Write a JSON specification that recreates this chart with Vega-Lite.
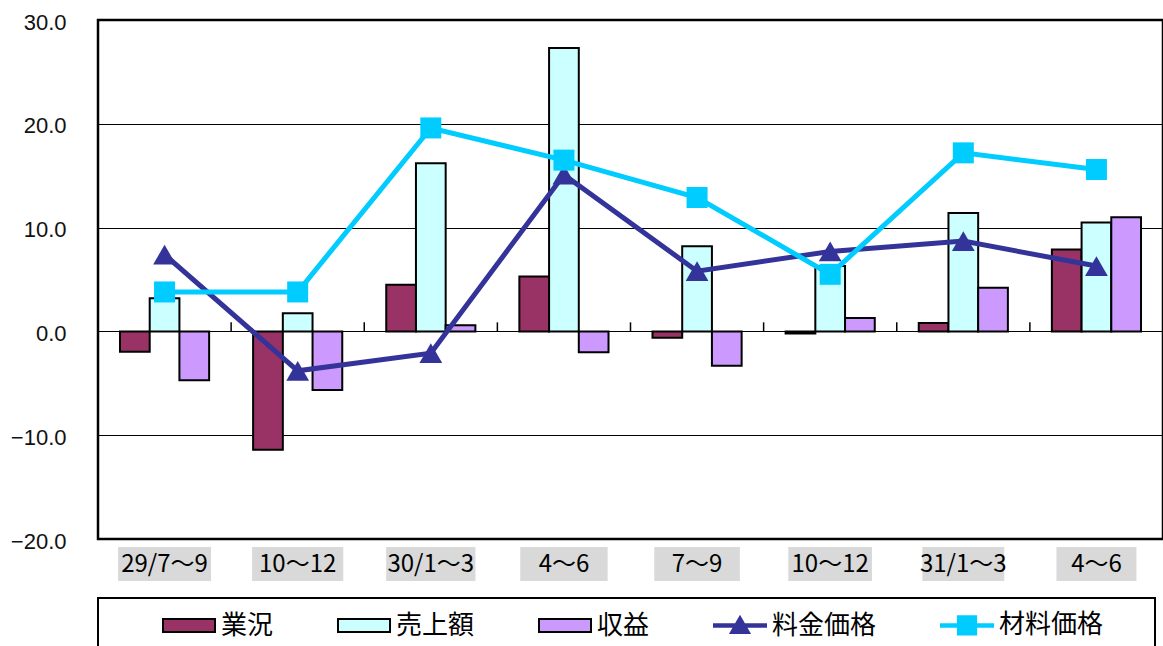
{
  "$schema": "https://vega.github.io/schema/vega-lite/v6.json",
  "width": 1065,
  "height": 519,
  "autosize": {"type": "none"},
  "padding": {"left": 98, "top": 20, "right": 0, "bottom": 107},
  "background": "white",
  "config": {"view": {"stroke": "black", "strokeWidth": 2.5}},
  "data": {"values": [
    {"cat": "29/7～9", "series": "業況", "value": -1.95},
    {"cat": "29/7～9", "series": "売上額", "value": 3.2},
    {"cat": "29/7～9", "series": "収益", "value": -4.7},
    {"cat": "29/7～9", "series": "料金価格", "value": 7.4},
    {"cat": "29/7～9", "series": "材料価格", "value": 3.8},
    {"cat": "29/10～12", "series": "業況", "value": -11.4},
    {"cat": "29/10～12", "series": "売上額", "value": 1.75},
    {"cat": "29/10～12", "series": "収益", "value": -5.65},
    {"cat": "29/10～12", "series": "料金価格", "value": -3.8},
    {"cat": "29/10～12", "series": "材料価格", "value": 3.8},
    {"cat": "30/1～3", "series": "業況", "value": 4.5},
    {"cat": "30/1～3", "series": "売上額", "value": 16.2},
    {"cat": "30/1～3", "series": "収益", "value": 0.6},
    {"cat": "30/1～3", "series": "料金価格", "value": -2.1},
    {"cat": "30/1～3", "series": "材料価格", "value": 19.6},
    {"cat": "30/4～6", "series": "業況", "value": 5.3},
    {"cat": "30/4～6", "series": "売上額", "value": 27.3},
    {"cat": "30/4～6", "series": "収益", "value": -2.0},
    {"cat": "30/4～6", "series": "料金価格", "value": 15.1},
    {"cat": "30/4～6", "series": "材料価格", "value": 16.5},
    {"cat": "30/7～9", "series": "業況", "value": -0.6},
    {"cat": "30/7～9", "series": "売上額", "value": 8.2},
    {"cat": "30/7～9", "series": "収益", "value": -3.3},
    {"cat": "30/7～9", "series": "料金価格", "value": 5.8},
    {"cat": "30/7～9", "series": "材料価格", "value": 12.9},
    {"cat": "30/10～12", "series": "業況", "value": -0.2},
    {"cat": "30/10～12", "series": "売上額", "value": 6.3},
    {"cat": "30/10～12", "series": "収益", "value": 1.3},
    {"cat": "30/10～12", "series": "料金価格", "value": 7.7},
    {"cat": "30/10～12", "series": "材料価格", "value": 5.5},
    {"cat": "31/1～3", "series": "業況", "value": 0.8},
    {"cat": "31/1～3", "series": "売上額", "value": 11.4},
    {"cat": "31/1～3", "series": "収益", "value": 4.2},
    {"cat": "31/1～3", "series": "料金価格", "value": 8.7},
    {"cat": "31/1～3", "series": "材料価格", "value": 17.2},
    {"cat": "31/4～6", "series": "業況", "value": 7.9},
    {"cat": "31/4～6", "series": "売上額", "value": 10.5},
    {"cat": "31/4～6", "series": "収益", "value": 11.0},
    {"cat": "31/4～6", "series": "料金価格", "value": 6.3},
    {"cat": "31/4～6", "series": "材料価格", "value": 15.6}
  ]},
  "encoding": {
    "x": {
      "field": "cat", "type": "nominal", "sort": null,
      "scale": {"domain": ["29/7～9","29/10～12","30/1～3","30/4～6","30/7～9","30/10～12","31/1～3","31/4～6"], "paddingInner": 0, "paddingOuter": 0},
      "axis": {
        "title": null, "domain": false, "ticks": false, "tickSize": 0, "labelAngle": 0,
        "labelFont": "Noto Sans CJK JP", "labelFontSize": 24, "labelColor": "black",
        "labelPadding": 25, "labelBaseline": "middle", "zindex": 1,
        "labelExpr": "indexof(['29/7～9','30/1～3','31/1～3'], datum.value) >= 0 ? datum.value : split(datum.value, '/')[1]"
      }
    }
  },
  "layer": [
    {
      "transform": [{"filter": "datum.series == '業況'"}],
      "mark": {"type": "bar", "color": "#d9d9d9"},
      "encoding": {
        "y": {"datum": -20.77, "type": "quantitative"},
        "y2": {"datum": -24.05},
        "size": {"field": "cat", "type": "ordinal", "scale": {"domain": ["29/7～9","29/10～12","30/1～3","30/4～6","30/7～9","30/10～12","31/1～3","31/4～6"], "range": [93,80,93,55,55,80,93,55]}, "legend": null}
      }
    },
    {
      "transform": [{"filter": "indexof(['業況','売上額','収益'], datum.series) >= 0"}],
      "mark": {"type": "bar", "stroke": "black", "strokeWidth": 2},
      "encoding": {
        "y": {"field": "value", "type": "quantitative", "scale": {"domain": [-20, 30], "nice": false},
          "axis": {"title": null, "values": [-20,-10,0,10,20,30], "format": ".1f", "domain": false, "ticks": false, "grid": true, "gridColor": "black", "gridWidth": 1, "gridOpacity": 1, "labelFont": "Liberation Sans", "labelFontSize": 22, "labelColor": "#111111", "labelPadding": 32, "labelOffset": 2}},
        "xOffset": {"field": "series", "type": "nominal", "scale": {"domain": ["業況","売上額","収益"], "paddingInner": 0, "paddingOuter": 0.74}},
        "fill": {
          "field": "series", "type": "nominal",
          "scale": {"domain": ["業況","売上額","収益","料金価格","材料価格"], "range": ["#993366","#CCFFFF","#CC99FF","#333399","#00CCFF"]},
          "legend": {
            "orient": "none", "legendX": 0, "legendY": 578, "direction": "horizontal",
            "title": "\u00a0", "titleOrient": "left", "titleFontSize": 2, "titlePadding": 51,
            "padding": 13, "strokeColor": "black", "columnPadding": 60,
            "symbolSize": 676, "symbolStrokeWidth": 2, "symbolOffset": 0,
            "labelOffset": 31, "labelFont": "Noto Sans CJK JP", "labelFontSize": 26, "labelColor": "black", "labelLimit": 400,
            "labelExpr": "datum.label == '材料価格' ? datum.label + '\u2800\u2800' : datum.label",
            "encode": {
              "legend": {"update": {"strokeWidth": {"value": 2}}},
              "symbols": {"update": {
                "shape": {"signal": "datum.value == '料金価格' ? 'M-1,-0.1H3V0.1H-1Z M1,-0.68L1.72,0.58H0.28Z' : datum.value == '材料価格' ? 'M-1,-0.1H3V0.1H-1Z M0.3,-0.7H1.7V0.7H0.3Z' : 'M-1,-0.5H3V0.5H-1Z'"},
                "opacity": {"value": 1}
              }}
            }
          }
        }
      }
    },
    {
      "transform": [{"filter": "datum.series == '業況'"}],
      "mark": {"type": "rule", "strokeWidth": 1.5, "color": "black"},
      "encoding": {
        "x": {
          "field": "cat", "type": "nominal", "sort": null, "bandPosition": 0,
          "scale": {"domain": ["29/7～9","29/10～12","30/1～3","30/4～6","30/7～9","30/10～12","31/1～3","31/4～6"], "paddingInner": 0, "paddingOuter": 0},
          "axis": {
            "title": null, "domain": false, "ticks": false, "tickSize": 0, "labelAngle": 0,
            "labelFont": "Noto Sans CJK JP", "labelFontSize": 24, "labelColor": "black",
            "labelPadding": 25, "labelBaseline": "middle", "zindex": 1,
            "labelExpr": "indexof(['29/7～9','30/1～3','31/1～3'], datum.value) >= 0 ? datum.value : split(datum.value, '/')[1]"
          }
        },
        "y": {"datum": 0, "type": "quantitative"},
        "y2": {"datum": 0.87}
      }
    },
    {
      "transform": [{"filter": "indexof(['料金価格','材料価格'], datum.series) >= 0"}],
      "mark": {"type": "line", "strokeWidth": 5},
      "encoding": {
        "y": {"field": "value", "type": "quantitative"},
        "stroke": {
          "field": "series", "type": "nominal",
          "scale": {"domain": ["業況","売上額","収益","料金価格","材料価格"], "range": ["black","black","black","#333399","#00CCFF"]},
          "legend": {
            "orient": "none", "legendX": 0, "legendY": 578, "direction": "horizontal",
            "title": "\u00a0", "titleOrient": "left", "titleFontSize": 2, "titlePadding": 51,
            "padding": 13, "strokeColor": "black", "columnPadding": 60,
            "symbolSize": 676, "symbolStrokeWidth": 2, "symbolOffset": 0,
            "labelOffset": 31, "labelFont": "Noto Sans CJK JP", "labelFontSize": 26, "labelColor": "black", "labelLimit": 400,
            "labelExpr": "datum.label == '材料価格' ? datum.label + '\u2800\u2800' : datum.label",
            "encode": {
              "legend": {"update": {"strokeWidth": {"value": 2}}},
              "symbols": {"update": {
                "shape": {"signal": "datum.value == '料金価格' ? 'M-1,-0.1H3V0.1H-1Z M1,-0.68L1.72,0.58H0.28Z' : datum.value == '材料価格' ? 'M-1,-0.1H3V0.1H-1Z M0.3,-0.7H1.7V0.7H0.3Z' : 'M-1,-0.5H3V0.5H-1Z'"},
                "opacity": {"value": 1}
              }}
            }
          }
        }
      }
    },
    {
      "transform": [{"filter": "datum.series == '料金価格'"}],
      "mark": {"type": "point", "filled": true, "opacity": 1, "shape": "triangle-up", "size": 520, "color": "#333399"},
      "encoding": {
        "y": {"field": "value", "type": "quantitative"}
      }
    },
    {
      "transform": [{"filter": "datum.series == '材料価格'"}],
      "mark": {"type": "point", "filled": true, "opacity": 1, "shape": "square", "size": 441, "color": "#00CCFF"},
      "encoding": {
        "y": {"field": "value", "type": "quantitative"}
      }
    }
  ]
}
